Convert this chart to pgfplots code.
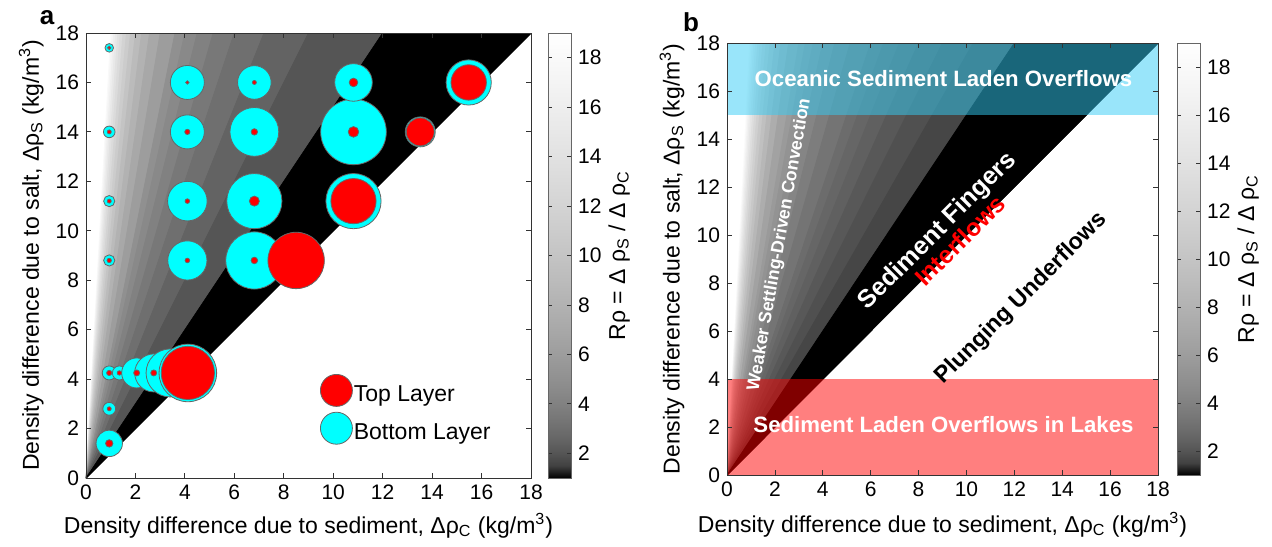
\documentclass[border=0pt]{standalone}
\usepackage{fontspec}
\setmainfont{Liberation Sans}
\usepackage{pgfplots}
\usepackage{pgfplotstable}
\pgfplotsset{compat=1.18}

\definecolor{oceanc}{rgb}{0.2,0.8,0.96}
\definecolor{cyanr}{rgb}{0,1,1}
\definecolor{redr}{rgb}{1,0,0}
\newcommand{\tickfont}{\fontsize{10.5}{12}\selectfont}
\newcommand{\labfont}{\fontsize{11.5}{13}\selectfont}

\pgfplotsset{
  colormap={rgam}{gray(0cm)=(0); gray(0.5cm)=(0.256); gray(1cm)=(0.333); gray(1.5cm)=(0.389);
    gray(2cm)=(0.434); gray(2.5cm)=(0.472); gray(3cm)=(0.506); gray(3.5cm)=(0.537);
    gray(4cm)=(0.565); gray(5cm)=(0.615); gray(6cm)=(0.659); gray(7cm)=(0.698);
    gray(8cm)=(0.735); gray(9cm)=(0.769); gray(10cm)=(0.800); gray(11cm)=(0.829);
    gray(12cm)=(0.857); gray(13cm)=(0.884); gray(14cm)=(0.909); gray(15cm)=(0.933);
    gray(16cm)=(0.956); gray(17cm)=(0.978); gray(18cm)=(1)},
  every axis/.append style={/pgf/number format/assume math mode=true},
  rhoaxis/.style={
    scale only axis,
    xmin=0, xmax=18, ymin=0, ymax=18,
    xtick={0,2,...,18}, ytick={0,2,...,18},
    tick align=inside, major tick length=2.5pt,
    axis line style={black!80, line width=0.4pt},
    every tick/.append style={black!80, line width=0.4pt},
    axis on top,
    tick label style={font=\tickfont},
    label style={font=\labfont},
    xlabel={Density difference due to sediment, Δρ\textsubscript{C} (kg/m\textsuperscript{3})},
    ylabel={Density difference due to salt, Δρ\textsubscript{S} (kg/m\textsuperscript{3})},
    colormap name=rgam, point meta min=1, point meta max=19,
    colorbar,
  },
  cbstyle/.style={
    at={(parent axis.north east)}, anchor=north west,
    width=11.5pt, scale only axis,
    ytick={2,4,...,18}, yticklabel pos=right,
    tick align=inside, major tick length=2pt,
    tick label style={font=\tickfont},
    axis line style={black!60, line width=0.4pt},
    ylabel={Rρ = Δ ρ\textsubscript{S} / Δ ρ\textsubscript{C}},
    ylabel style={font=\labfont, at={(axis description cs:3.09,0.5)}, anchor=center},
  },
}

% wedges of constant R = y/x : triangle (0,0)-(18,18)-(18/R,18), colour meta c
\pgfplotstableread{
x y c
0 0 18
18 18 18
1.0 18 18
0 0 17
18 18 17
1.0588 18 17
0 0 16
18 18 16
1.125 18 16
0 0 15
18 18 15
1.2 18 15
0 0 14
18 18 14
1.2857 18 14
0 0 13
18 18 13
1.3846 18 13
0 0 12
18 18 12
1.5 18 12
0 0 11
18 18 11
1.6364 18 11
0 0 10
18 18 10
1.8 18 10
0 0 9
18 18 9
2.0 18 9
0 0 8
18 18 8
2.25 18 8
0 0 7
18 18 7
2.5714 18 7
0 0 6
18 18 6
3.0 18 6
0 0 5
18 18 5
3.6 18 5
0 0 4.5
18 18 4.5
4.0 18 4.5
0 0 4
18 18 4
4.5 18 4
0 0 3.5
18 18 3.5
5.1429 18 3.5
0 0 3
18 18 3
6.0 18 3
0 0 2.5
18 18 2.5
7.2 18 2.5
0 0 2
18 18 2
9.0 18 2
0 0 1
18 18 1
12.0 18 1
}\wedgeA

\pgfplotstableread{
x y c
0 0 18.5
18 18 18.5
0.9474 18 18.5
0 0 17.5
18 18 17.5
1.0 18 17.5
0 0 16.5
18 18 16.5
1.0588 18 16.5
0 0 15.5
18 18 15.5
1.125 18 15.5
0 0 14.5
18 18 14.5
1.2 18 14.5
0 0 13.5
18 18 13.5
1.2857 18 13.5
0 0 12.5
18 18 12.5
1.3846 18 12.5
0 0 11.5
18 18 11.5
1.5 18 11.5
0 0 10.5
18 18 10.5
1.6364 18 10.5
0 0 9.5
18 18 9.5
1.8 18 9.5
0 0 8.5
18 18 8.5
2.0 18 8.5
0 0 7.5
18 18 7.5
2.25 18 7.5
0 0 6.5
18 18 6.5
2.5714 18 6.5
0 0 5.75
18 18 5.75
3.0 18 5.75
0 0 5.25
18 18 5.25
3.2727 18 5.25
0 0 4.75
18 18 4.75
3.6 18 4.75
0 0 4.25
18 18 4.25
4.0 18 4.25
0 0 3.75
18 18 3.75
4.5 18 3.75
0 0 3.25
18 18 3.25
5.1429 18 3.25
0 0 2.875
18 18 2.875
6.0 18 2.875
0 0 2.625
18 18 2.625
6.5455 18 2.625
0 0 2.375
18 18 2.375
7.2 18 2.375
0 0 2.125
18 18 2.125
8.0 18 2.125
0 0 1.875
18 18 1.875
9.0 18 1.875
0 0 1.625
18 18 1.625
10.2857 18 1.625
0 0 1
18 18 1
12.0 18 1
}\wedgeB

% circles: x, y, radius of bottom layer (rc) and top layer (rr), in pt
\pgfplotstableread{
x y rc rr
0.94 17.4 2.15 0.85
0.94 14.0 2.9 1.0
0.94 11.2 2.8 1.0
0.94 8.8 2.8 1.1
0.94 2.8 3.2 1.0
0.94 1.4 6.6 1.85
0.94 4.25 3.5 1.3
1.35 4.25 3.5 1.1
2.05 4.25 7.5 1.5
2.74 4.25 9.5 1.5
3.4 4.25 12.0 1.5
4.12 4.25 14.4 13.3
4.1 8.8 9.8 1.15
6.81 8.8 14.3 1.65
8.5 8.8 13.8 14.1
4.1 11.2 9.9 1.15
6.81 11.2 13.8 2.5
10.82 11.2 13.8 11.3
4.1 14.0 8.5 1.3
6.81 14.0 12.2 1.6
10.82 14.0 16.4 2.65
13.52 14.0 7.5 7.0
4.1 16.0 8.5 0.85
6.81 16.0 8.4 1.0
10.82 16.0 9.4 2.15
15.48 16.0 11.3 8.85
}\circles

\begin{document}
\begin{tikzpicture}
\useasboundingbox (0,0) rectangle (636pt,-273pt);

% ---------------- panel a ----------------
\begin{axis}[rhoaxis,
  at={(43pt,-239pt)}, anchor=south west,
  width=222.5pt, height=222.5pt,
  xlabel style={at={(axis description cs:0.5,-0.1236)}, anchor=base},
  ylabel style={at={(axis description cs:-0.106,0.5)}, anchor=base},
  colorbar style={cbstyle, height=222.5pt},
  legend style={draw=none, fill=none, at={(0.5259,0.2337)}, anchor=north west,
    inner sep=0pt, outer sep=0pt, row sep=2.5pt, font=\labfont,
    nodes={inner sep=0.5pt}},
  legend cell align=left,
]
\addplot[patch, patch type=triangle, shader=flat, point meta=explicit, forget plot]
  table[x=x, y=y, meta=c] {\wedgeA};
\addplot[scatter, only marks, mark=*, forget plot, point meta=\thisrow{rc},
  scatter/use mapped color={draw=black!60, fill=cyanr},
  mark options={line width=0.4pt},
  visualization depends on={\thisrow{rc} \as \perpointmarksize},
  scatter/@pre marker code/.append style={/tikz/mark size=\perpointmarksize}]
  table[x=x, y=y] {\circles};
\addplot[scatter, only marks, mark=*, forget plot, point meta=\thisrow{rr},
  scatter/use mapped color={draw=black!60, fill=redr},
  mark options={line width=0.4pt},
  visualization depends on={\thisrow{rr} \as \perpointmarksize},
  scatter/@pre marker code/.append style={/tikz/mark size=\perpointmarksize}]
  table[x=x, y=y] {\circles};
\addlegendimage{legend image code/.code={\draw[fill=redr, draw=black!60, line width=0.4pt] (8pt,2.5pt) circle (8pt);}}
\addlegendentry{Top Layer}
\addlegendimage{legend image code/.code={\draw[fill=cyanr, draw=black!60, line width=0.4pt] (8pt,2.5pt) circle (8pt);}}
\addlegendentry{Bottom Layer}
\end{axis}

% ---------------- panel b ----------------
\begin{axis}[rhoaxis,
  at={(363.5pt,-237.5pt)}, anchor=south west,
  width=215.5pt, height=216pt,
  xlabel style={at={(axis description cs:0.5,-0.132)}, anchor=base},
  ylabel style={at={(axis description cs:-0.11,0.5)}, anchor=base},
  colorbar style={cbstyle, xshift=1pt, height=216pt},
]
\addplot[patch, patch type=triangle, shader=flat, point meta=explicit, forget plot]
  table[x=x, y=y, meta=c] {\wedgeB};
\addplot[draw=none, fill=oceanc, fill opacity=0.5, forget plot]
  coordinates {(0,15) (18,15) (18,18) (0,18)} -- cycle;
\addplot[draw=none, fill=redr, fill opacity=0.5, forget plot]
  coordinates {(0,0) (18,0) (18,4) (0,4)} -- cycle;
\node[text=white, font=\bfseries\fontsize{11.1}{13}\selectfont] at (axis cs:9.04,16.5) {Oceanic Sediment Laden Overflows};
\node[text=white, font=\bfseries\fontsize{11.1}{13}\selectfont] at (axis cs:9.04,2.1) {Sediment Laden Overflows in Lakes};
\node[text=white, rotate=80, font=\bfseries\fontsize{8.9}{10}\selectfont] at (axis cs:2.2,9.6) {Weaker Settling-Driven Convection};
\node[text=white, rotate=45, font=\bfseries\fontsize{12.6}{14}\selectfont] at (axis cs:8.81,10.15) {Sediment Fingers};
\node[text=redr, rotate=45, font=\bfseries\fontsize{12.3}{14}\selectfont] at (axis cs:9.73,9.77) {Interflows};
\node[text=black, rotate=45, font=\bfseries\fontsize{11.6}{13}\selectfont] at (axis cs:12.3,7.35) {Plunging Underflows};
\end{axis}

\node[font=\bfseries\fontsize{13}{15}\selectfont] at (23.5pt,-9pt) {a};
\node[font=\bfseries\fontsize{13}{15}\selectfont] at (345.5pt,-11pt) {b};
\end{tikzpicture}
\end{document}
